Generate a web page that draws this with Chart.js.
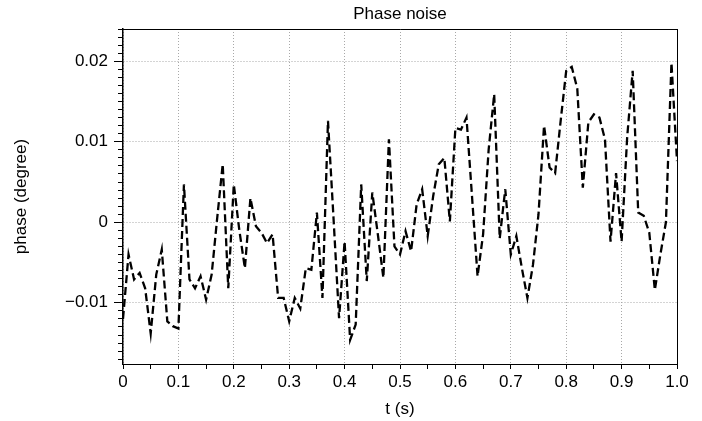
<!DOCTYPE html>
<html lang="en">
<head>
  <meta charset="UTF-8" />
  <title>Phase noise</title>
  <script src="https://cdn.jsdelivr.net/npm/chart.js"></script>
  <style>
    html, body { margin: 0; padding: 0; background: #fff; }
    #wrap { width: 702px; height: 421px; }
  </style>
</head>
<body>
  <div id="wrap"><canvas id="phaseChart" width="702" height="421"></canvas></div>

  <script>
    // time samples (s), one every 0.01 s
    const times = [
      0.00, 0.01, 0.02, 0.03, 0.04, 0.05, 0.06, 0.07, 0.08, 0.09,
      0.10, 0.11, 0.12, 0.13, 0.14, 0.15, 0.16, 0.17, 0.18, 0.19,
      0.20, 0.21, 0.22, 0.23, 0.24, 0.25, 0.26, 0.27, 0.28, 0.29,
      0.30, 0.31, 0.32, 0.33, 0.34, 0.35, 0.36, 0.37, 0.38, 0.39,
      0.40, 0.41, 0.42, 0.43, 0.44, 0.45, 0.46, 0.47, 0.48, 0.49,
      0.50, 0.51, 0.52, 0.53, 0.54, 0.55, 0.56, 0.57, 0.58, 0.59,
      0.60, 0.61, 0.62, 0.63, 0.64, 0.65, 0.66, 0.67, 0.68, 0.69,
      0.70, 0.71, 0.72, 0.73, 0.74, 0.75, 0.76, 0.77, 0.78, 0.79,
      0.80, 0.81, 0.82, 0.83, 0.84, 0.85, 0.86, 0.87, 0.88, 0.89,
      0.90, 0.91, 0.92, 0.93, 0.94, 0.95, 0.96, 0.97, 0.98, 0.99,
      1.00
    ];

    // phase (degree)
    const phase = [
      -0.0120, -0.0040, -0.0071, -0.0063, -0.0082, -0.0138, -0.0065, -0.0034, -0.0123, -0.0129,
      -0.0132,  0.0047, -0.0071, -0.0082, -0.0067, -0.0096, -0.0065,  0.0005,  0.0072, -0.0082,
       0.0047, -0.0010, -0.0057,  0.0030, -0.0005, -0.0013, -0.0026, -0.0015, -0.0094, -0.0094,
      -0.0123, -0.0094, -0.0107, -0.0057, -0.0059,  0.0012, -0.0094,  0.0126,  0.0005, -0.0119,
      -0.0024, -0.0146, -0.0127,  0.0047, -0.0073,  0.0037, -0.0015, -0.0069,  0.0103, -0.0030,
      -0.0040, -0.0011, -0.0036,  0.0022,  0.0041, -0.0017,  0.0033,  0.0072,  0.0080,  0.0001,
       0.0117,  0.0115,  0.0130,  0.0032, -0.0067, -0.0015,  0.0090,  0.0159, -0.0020,  0.0041,
      -0.0040, -0.0017, -0.0057, -0.0094, -0.0053,  0.0010,  0.0120,  0.0068,  0.0061,  0.0126,
       0.0188,  0.0193,  0.0166,  0.0043,  0.0124,  0.0134,  0.0130,  0.0103, -0.0024,  0.0061,
      -0.0024,  0.0105,  0.0188,  0.0012,  0.0008, -0.0013, -0.0084, -0.0040,  0.0000,  0.0198,
       0.0076
    ];

    const xMajorTicks = [0, 0.1, 0.2, 0.3, 0.4, 0.5, 0.6, 0.7, 0.8, 0.9, 1.0];
    const xTickLabels = ["0", "0.1", "0.2", "0.3", "0.4", "0.5", "0.6", "0.7", "0.8", "0.9", "1.0"];
    const yMajorTicks = [-0.01, 0, 0.01, 0.02];
    const yTickLabels = ["\u22120.01", "0", "0.01", "0.02"];

    const FONT = "'Liberation Sans', Arial, Helvetica, sans-serif";

    function majorIndex(list, v) {
      return list.findIndex(m => Math.abs(m - v) < 1e-9);
    }

    const points = times.map((t, i) => ({ x: t, y: phase[i] }));

    new Chart(document.getElementById("phaseChart").getContext("2d"), {
      type: "line",
      data: {
        datasets: [{
          label: "phase",
          data: points,
          borderColor: "#000",
          borderWidth: 2.3,
          borderDash: [8, 4],
          pointRadius: 0,
          tension: 0,
          fill: false
        }]
      },
      options: {
        responsive: false,
        animation: false,
        layout: { padding: { left: 0, right: 25, top: 0, bottom: 0 } },
        plugins: {
          legend: { display: false },
          tooltip: { enabled: false },
          title: {
            display: true,
            text: "Phase noise",
            color: "#000",
            fullSize: false,
            font: { family: FONT, size: 17, weight: "normal" },
            padding: { top: 4, bottom: 3 }
          }
        },
        scales: {
          x: {
            type: "linear",
            position: "bottom",
            min: 0,
            max: 1,
            afterFit: s => { s.height = 57; },
            ticks: {
              stepSize: 0.05,
              autoSkip: false,
              maxRotation: 0,
              includeBounds: false,
              color: "#000",
              padding: 3,
              font: { family: FONT, size: 17 },
              callback: v => {
                const i = majorIndex(xMajorTicks, v);
                return i >= 0 ? xTickLabels[i] : "";
              }
            },
            grid: {
              color: c => (c.tick && majorIndex(xMajorTicks, c.tick.value) >= 0) ? "#a8a8a8" : "rgba(0,0,0,0)",
              lineWidth: 1,
              tickLength: 5,
              tickColor: "#000",
              tickWidth: 1
            },
            border: { display: true, color: "#000", width: 1, dash: [1, 2] },
            title: {
              display: true,
              text: "t (s)",
              color: "#000",
              font: { family: FONT, size: 17 },
              padding: { top: 0, bottom: 1 }
            }
          },
          y: {
            type: "linear",
            position: "left",
            min: -0.0176,
            max: 0.024,
            afterFit: s => { s.width = 123; },
            ticks: {
              stepSize: 0.001,
              autoSkip: false,
              includeBounds: false,
              color: "#000",
              padding: 6,
              font: { family: FONT, size: 17 },
              callback: v => {
                const i = majorIndex(yMajorTicks, v);
                return i >= 0 ? yTickLabels[i] : "";
              }
            },
            grid: {
              color: c => (c.tick && majorIndex(yMajorTicks, c.tick.value) >= 0) ? "#a8a8a8" : "rgba(0,0,0,0)",
              lineWidth: 1,
              tickLength: 9,
              tickColor: "#000",
              tickWidth: 1,
              tickBorderDash: c => (c.tick && majorIndex(yMajorTicks, c.tick.value) >= 0) ? [] : [0, 4, 5, 0]
            },
            border: { display: true, color: "#000", width: 1.5, dash: [1, 2] },
            title: {
              display: true,
              text: "phase (degree)",
              color: "#000",
              font: { family: FONT, size: 17 },
              padding: { top: 11, bottom: 0 }
            }
          },
          xTop: {
            type: "linear",
            position: "top",
            min: 0,
            max: 1,
            afterFit: s => { s.height = 1.6; },
            ticks: { display: false },
            grid: { drawOnChartArea: false, drawTicks: false },
            border: { display: true, color: "#000", width: 1 }
          },
          yRight: {
            type: "linear",
            position: "right",
            min: -0.0176,
            max: 0.024,
            afterFit: s => { s.width = 0; },
            ticks: { display: false },
            grid: { drawOnChartArea: false, drawTicks: false },
            border: { display: true, color: "#000", width: 1 }
          }
        }
      }
    });
  </script>
</body>
</html>
